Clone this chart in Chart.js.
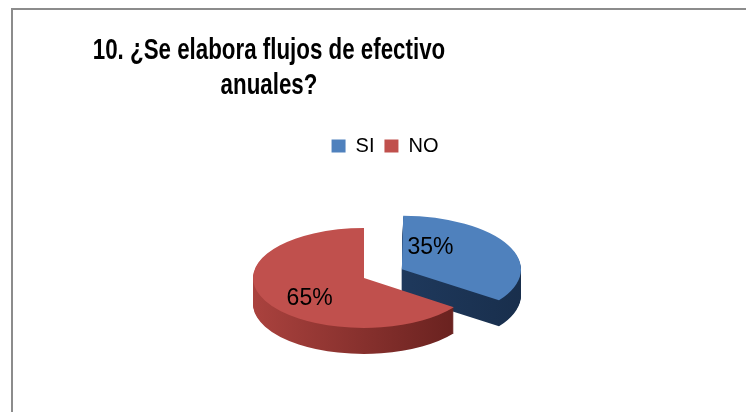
<!DOCTYPE html>
<html>
<head>
<meta charset="utf-8">
<script src="https://cdn.jsdelivr.net/npm/chart.js@4"></script>
<style>
  html, body { margin: 0; padding: 0; background: #fff; }
  #wrap { position: relative; width: 746px; height: 412px; overflow: hidden; }
  #frame { position: absolute; left: 11px; top: 8px; right: -4px; bottom: -4px;
           border-top: 2px solid #8c8c8c; border-left: 2px solid #8c8c8c; }
  #chart { position: absolute; left: 0; top: 0; }
</style>
</head>
<body>
<div id="wrap">
  <div id="frame"></div>
  <canvas id="chart" width="746" height="412"></canvas>
</div>
<script>
// chart data
const titleLines = ['10. ¿Se elabora flujos de efectivo', 'anuales?'];
const categories = ['SI', 'NO'];
const percentages = [35, 65];

// colours: top face, side wall (light end / dark end)
const topColors = ['#4f81bd', '#c0504d'];
const sideLight = ['#24426b', '#aa423e'];
const sideDark = ['#172c48', '#561816'];

// Title drawn a bit narrower, like the original
const titlePlugin = {
    id: 'squeezedTitle',
    afterDraw(chart, args, opts) {
        const ctx = chart.ctx;
        ctx.save();
        ctx.fillStyle = '#000';
        ctx.font = 'bold 29px "Liberation Sans", Arial, sans-serif';
        ctx.textAlign = 'center';
        ctx.textBaseline = 'alphabetic';
        opts.lines.forEach((line, i) => {
            ctx.save();
            ctx.translate(opts.x, opts.baseline + i * opts.lineGap);
            ctx.scale(opts.squeeze, 1);
            ctx.fillText(line, 0, 0);
            ctx.restore();
        });
        ctx.restore();
    }
};

// Fake 3D pie: squash the arcs and stack darker copies below them
function tilt(ctx, cx, cy, opts) {
    ctx.translate(cx + opts.shiftX, cy + opts.shiftY);
    ctx.scale(1, opts.tilt);
    ctx.translate(-cx, -cy);
}

const pie3dPlugin = {
    id: 'pie3d',
    beforeDatasetsDraw(chart, args, opts) {
        const ctx = chart.ctx;
        const arcs = chart.getDatasetMeta(0).data;
        const cx = arcs[0].x, cy = arcs[0].y, r = arcs[0].outerRadius;

        for (let d = opts.depth; d >= 1; d--) {
            ctx.save();
            ctx.translate(0, d);
            tilt(ctx, cx, cy, opts);
            arcs.forEach((arc, i) => {
                const g = ctx.createLinearGradient(cx - r, 0, cx + r + 40, 0);
                g.addColorStop(0, sideLight[i]);
                g.addColorStop(1, sideDark[i]);
                const saved = arc.options;
                const o = Object.create(saved);
                o.backgroundColor = g;
                o.borderWidth = 0;
                arc.options = o;
                arc.draw(ctx);
                arc.options = saved;
            });
            ctx.restore();
        }
        ctx.save();
        tilt(ctx, cx, cy, opts);
    },
    afterDatasetsDraw(chart, args, opts) {
        const ctx = chart.ctx;
        ctx.restore();

        // percentage labels, placed on the tilted top face
        const arcs = chart.getDatasetMeta(0).data;
        ctx.save();
        ctx.fillStyle = '#000';
        ctx.font = '23px "Liberation Sans", Arial, sans-serif';
        ctx.textAlign = 'center';
        ctx.textBaseline = 'middle';
        arcs.forEach((arc, i) => {
            const mid = (arc.startAngle + arc.endAngle) / 2;
            const rr = (arc.options.offset || 0) / 4 + arc.outerRadius * opts.labelRadius[i];
            const px = arc.x + Math.cos(mid) * rr;
            const py = arc.y + Math.sin(mid) * rr;
            const sx = px + opts.shiftX;
            const sy = arc.y + opts.shiftY + (py - arc.y) * opts.tilt + opts.labelNudgeY[i];
            ctx.fillText(percentages[i] + '%', sx, sy);
        });
        ctx.restore();
    }
};

const ctx = document.getElementById('chart').getContext('2d');
new Chart(ctx, {
    type: 'pie',
    data: {
        labels: categories,
        datasets: [{
            data: percentages,
            backgroundColor: topColors,
            borderWidth: 0,
            offset: [170, 0],
            radius: 111,
            clip: false
        }]
    },
    options: {
        responsive: false,
        animation: false,
        events: [],
        layout: {
            padding: { top: 126, left: 24, right: 0, bottom: 0 }
        },
        plugins: {
            title: { display: false },
            tooltip: { enabled: false },
            legend: {
                position: 'top',
                labels: {
                    color: '#000',
                    boxWidth: 14,
                    boxHeight: 13,
                    padding: 10,
                    font: { family: '"Liberation Sans", Arial, sans-serif', size: 20 }
                }
            },
            squeezedTitle: { lines: titleLines, x: 269, baseline: 59, lineGap: 35, squeeze: 0.77 },
            pie3d: { tilt: 0.45, depth: 26, shiftX: -21, shiftY: -11,
                     labelRadius: [0.29, 0.55], labelNudgeY: [-15, 8] }
        }
    },
    plugins: [titlePlugin, pie3dPlugin]
});
</script>
</body>
</html>
